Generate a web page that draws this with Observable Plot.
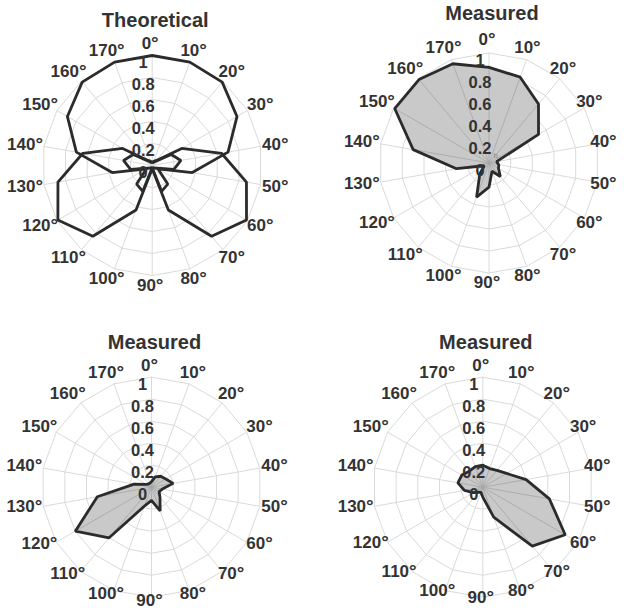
<!DOCTYPE html>
<html><head><meta charset="utf-8">
<script src="https://cdn.jsdelivr.net/npm/d3@7"></script>
<script src="https://cdn.jsdelivr.net/npm/@observablehq/plot@0.6"></script>
<style>
body{margin:0;background:#fff;}
#wrap{position:relative;width:624px;height:614px;overflow:hidden;background:#fff;}
.panel{position:absolute;width:312px;height:307px;}
.panel svg{overflow:visible;}
</style></head><body><div id="wrap"></div>
<script>
// polarisation angle (deg); drawn at twice the angle on the circle
const angles = [0,10,20,30,40,50,60,70,80,90,100,110,120,130,140,150,160,170];
const angleLabels = ["0°","10°","20°","30°","40°","50°","60°","70°","80°","90°","100°","110°","120°","130°","140°","150°","160°","170°"];
const rRings = [0.2,0.4,0.6,0.8,1];
const rTickValues = [0,0.2,0.4,0.6,0.8,1];
const rTickLabels = ["0","0.2","0.4","0.6","0.8","1"];
const titles = ["Theoretical","Measured","Measured","Measured"];

// Theoretical: three lobes (0°, 60°, 120°)
const theoryLobe0   = [1.00,1.00,0.99,0.89,0.70,0.37,0.06,0.22,0.25,0.02,0.25,0.22,0.06,0.37,0.70,0.89,0.99,1.00];
const theoryLobe60  = [0.03,0.04,0.06,0.31,0.64,0.87,0.99,0.84,0.43,0.03,0.02,0.03,0.05,0.20,0.265,0.20,0.05,0.03];
const theoryLobe120 = [0.03,0.03,0.05,0.20,0.265,0.20,0.05,0.03,0.02,0.03,0.43,0.84,0.99,0.87,0.64,0.31,0.06,0.04];

// Measured
const measuredA = [0.87,0.83,0.70,0.52,0.07,0.09,0.10,0.16,0.08,0.22,0.33,0.13,0.05,0.30,0.70,0.99,0.99,0.96];
const measuredB = [0.05,0.10,0.13,0.15,0.20,0.10,0.08,0.12,0.23,0.12,0.18,0.60,0.80,0.50,0.16,0.05,0.04,0.04];
const measuredC = [0.20,0.18,0.20,0.25,0.40,0.615,0.865,0.70,0.29,0.09,0.05,0.06,0.10,0.17,0.23,0.22,0.19,0.20];

const R = 110;
const rad = a => 2 * a * Math.PI / 180;
const px = (a, r) => r * Math.sin(rad(a));
const py = (a, r) => r * Math.cos(rad(a));

function closed(values) {
  const pts = angles.map((a, i) => ({a, r: values[i]}));
  pts.push(pts[0]);
  return pts;
}

function panel({title, series, filled, cx, cy, left, top, note, rxRight = 1.155, ryTop = 1.11, ryBottom = 1.09, titleY = 1.318}) {
  const ringPts = rRings.flatMap(r => [...angles, 180].map(a => ({a, r})));
  const spokes = angles.map(a => ({a}));
  const labels = angles.map((a, i) => ({a, label: angleLabels[i]}));
  const ticks = rTickValues.map((v, i) => ({v, label: rTickLabels[i]}));
  const lx = d => px(d.a, (d.a > 0 && d.a < 90) ? rxRight : 1.155);
  const ly = d => py(d.a, (d.a > 45 && d.a < 135) ? ryBottom : ryTop);
  const marks = [
    Plot.line(ringPts, {x: d => px(d.a, d.r), y: d => py(d.a, d.r), z: "r", stroke: "#dadada", strokeWidth: 1}),
    Plot.link(spokes, {x1: () => 0, y1: () => 0, x2: d => px(d.a, 1), y2: d => py(d.a, 1), stroke: "#dadada", strokeWidth: 1})
  ];
  for (const s of series) {
    const pts = closed(s);
    if (filled) {
      marks.push(Plot.line(pts, {x: d => px(d.a, d.r), y: d => py(d.a, d.r), fill: "#c9c9c9", stroke: "none"}));
      marks.push(Plot.link(pts.slice(0, -1), {x1: () => 0, y1: () => 0, x2: d => px(d.a, d.r), y2: d => py(d.a, d.r), stroke: "#a6a6a6", strokeWidth: 0.8}));
    }
    marks.push(Plot.line(pts, {x: d => px(d.a, d.r), y: d => py(d.a, d.r), stroke: "#2b2b2b", strokeWidth: 2.8, strokeLinejoin: "miter"}));
  }
  if (note) marks.push(Plot.text([note], {x: () => 0.06, y: () => 0.07, text: d => d, fill: "#8a8a8a", fontSize: 8}));
  marks.push(Plot.text(ticks, {x: () => 0, y: d => d.v, text: "label", dx: -9, dy: 7.5, fill: "#333", fontSize: 16.5, fontWeight: "bold"}));
  marks.push(Plot.text(labels, {x: lx, y: ly, text: "label", dx: -2, fill: "#333", fontSize: 17, fontWeight: "bold"}));
  marks.push(Plot.text([title], {x: () => 0, y: () => titleY, text: d => d, dx: 3, fill: "#333", fontSize: 20, fontWeight: "bold", letterSpacing: 0.3}));
  const svg = Plot.plot({
    width: 312, height: 307,
    style: {fontFamily: "'Liberation Sans', Arial, sans-serif", background: "transparent", overflow: "visible"},
    x: {domain: [-1, 1], range: [cx - R, cx + R], axis: null},
    y: {domain: [-1, 1], range: [cy + R, cy - R], axis: null},
    marks
  });
  // raised degree sign like the original
  svg.querySelectorAll("text").forEach(t => {
    const s = t.textContent;
    if (s.endsWith("°")) {
      t.textContent = s.slice(0, -1);
      const ts = document.createElementNS("http://www.w3.org/2000/svg", "tspan");
      ts.style.fontSize = "19px";
      ts.setAttribute("dy", "0");
      ts.textContent = "°";
      t.appendChild(ts);
    }
  });
  const div = document.createElement("div");
  div.className = "panel";
  div.style.left = left + "px";
  div.style.top = top + "px";
  div.appendChild(svg);
  document.getElementById("wrap").appendChild(div);
}

panel({title: titles[0], series: [theoryLobe0, theoryLobe60, theoryLobe120], filled: false, cx: 151.7, cy: 165, left: 0, top: 0});
panel({title: titles[1], series: [measuredA], filled: true, cx: 176.5, cy: 162.5, left: 312, top: 0, note: "b", rxRight: 1.075, ryTop: 1.12, titleY: 1.36});
panel({title: titles[2], series: [measuredB], filled: true, cx: 151, cy: 179.7, left: 0, top: 307, ryBottom: 1.03});
panel({title: titles[3], series: [measuredC], filled: true, cx: 170.3, cy: 179.7, left: 312, top: 307, rxRight: 1.075, ryBottom: 1.0});
</script></body></html>
